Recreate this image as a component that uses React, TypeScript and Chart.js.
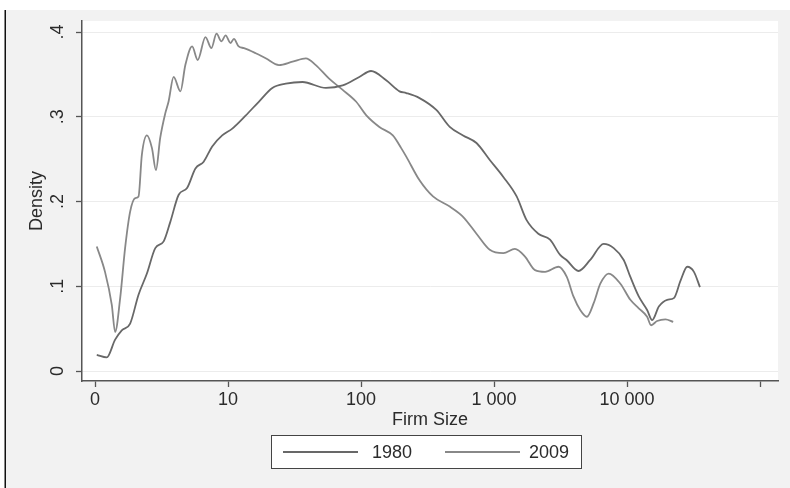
import React, { useEffect, useRef } from "react";
import { Chart, registerables } from "chart.js";

Chart.register(...registerables);

// x positions are log10(firm size) (0 shown as "0" at log position of 1)
const xTickValues = [0, 1, 2, 3, 4, 5];
const xTickLabels = ["0", "10", "100", "1 000", "10 000", ""];
const yTickValues = [0, 0.1, 0.2, 0.3, 0.4];
const yTickLabels = ["0", ".1", ".2", ".3", ".4"];

const seriesNames = ["1980", "2009"];

const x1980 = [0.013, 0.088, 0.151, 0.201, 0.264, 0.327, 0.39, 0.453, 0.516, 0.566, 0.629, 0.692, 0.755, 0.817, 0.881, 0.956, 1.032, 1.13, 1.233, 1.333, 1.434, 1.56, 1.736, 1.862, 1.987, 2.075, 2.189, 2.289, 2.34, 2.44, 2.566, 2.667, 2.767, 2.868, 2.968, 3.07, 3.17, 3.245, 3.333, 3.421, 3.497, 3.545, 3.635, 3.723, 3.824, 3.9, 3.975, 4.025, 4.088, 4.151, 4.189, 4.239, 4.302, 4.352, 4.403, 4.453, 4.503, 4.548];
const d1980 = [0.019, 0.016, 0.037, 0.048, 0.056, 0.09, 0.115, 0.145, 0.153, 0.176, 0.208, 0.216, 0.239, 0.247, 0.265, 0.278, 0.286, 0.301, 0.318, 0.334, 0.339, 0.341, 0.334, 0.337, 0.347, 0.354, 0.343, 0.33, 0.328, 0.322, 0.308, 0.288, 0.278, 0.269, 0.249, 0.229, 0.206, 0.178, 0.162, 0.155, 0.137, 0.131, 0.118, 0.131, 0.15, 0.145, 0.131, 0.111, 0.088, 0.072, 0.06, 0.076, 0.084, 0.086, 0.107, 0.123, 0.117, 0.099];

const x2009 = [0.013, 0.075, 0.126, 0.151, 0.189, 0.226, 0.264, 0.302, 0.327, 0.352, 0.39, 0.428, 0.458, 0.49, 0.528, 0.553, 0.591, 0.642, 0.679, 0.73, 0.772, 0.83, 0.875, 0.913, 0.951, 0.981, 1.019, 1.044, 1.08, 1.12, 1.208, 1.283, 1.383, 1.485, 1.585, 1.66, 1.76, 1.86, 1.962, 2.038, 2.138, 2.239, 2.302, 2.34, 2.44, 2.541, 2.667, 2.767, 2.868, 2.968, 3.07, 3.157, 3.233, 3.308, 3.384, 3.485, 3.547, 3.597, 3.648, 3.698, 3.749, 3.799, 3.862, 3.95, 4.025, 4.088, 4.151, 4.181, 4.226, 4.289, 4.347];
const d2009 = [0.147, 0.117, 0.078, 0.046, 0.086, 0.145, 0.188, 0.204, 0.206, 0.255, 0.278, 0.263, 0.237, 0.275, 0.304, 0.318, 0.347, 0.33, 0.361, 0.383, 0.367, 0.394, 0.381, 0.398, 0.389, 0.396, 0.387, 0.392, 0.383, 0.381, 0.375, 0.369, 0.361, 0.365, 0.369, 0.361, 0.345, 0.332, 0.318, 0.302, 0.288, 0.278, 0.263, 0.253, 0.225, 0.206, 0.194, 0.182, 0.162, 0.143, 0.139, 0.144, 0.135, 0.119, 0.117, 0.123, 0.111, 0.088, 0.072, 0.064, 0.08, 0.103, 0.115, 0.103, 0.084, 0.074, 0.064, 0.054, 0.059, 0.061, 0.058];

const FONT = "'Liberation Sans', Arial, Helvetica, sans-serif";
const TEXT = "#2b2b2b";
const AXIS = "#555555";

const stataPlugin = {
  id: "stataLook",
  beforeDraw(chart: any) {
    const { ctx, chartArea: a, width, height } = chart;
    ctx.save();
    ctx.fillStyle = "#ffffff";
    ctx.fillRect(0, 0, width, height);
    ctx.fillStyle = "#f2f2f2";
    ctx.fillRect(6, 10, width - 6, height - 10);
    ctx.strokeStyle = "#111111";
    ctx.lineWidth = 1.5;
    ctx.beginPath();
    ctx.moveTo(5.25, 10);
    ctx.lineTo(5.25, height);
    ctx.stroke();
    ctx.fillStyle = "#ffffff";
    ctx.fillRect(a.left, a.top, a.right - a.left, a.bottom - a.top);
    ctx.restore();
  },
  afterDraw(chart: any) {
    const { ctx } = chart;
    const yScale = chart.scales.y;
    ctx.save();
    // rotated y tick labels
    ctx.fillStyle = TEXT;
    ctx.font = `18px ${FONT}`;
    ctx.textAlign = "center";
    ctx.textBaseline = "middle";
    yTickValues.forEach((v, i) => {
      const py = yScale.getPixelForValue(v);
      ctx.save();
      ctx.translate(58, py);
      ctx.rotate(-Math.PI / 2);
      ctx.fillText(yTickLabels[i], 0, 0);
      ctx.restore();
    });
    // legend box
    const bx = 271, by = 435, bw = 310, bh = 33;
    ctx.fillStyle = "#ffffff";
    ctx.fillRect(bx, by, bw, bh);
    ctx.strokeStyle = "#444444";
    ctx.lineWidth = 1;
    ctx.strokeRect(bx + 0.5, by + 0.5, bw, bh);
    const cy = by + bh / 2 + 0.5;
    const items = [
      { x0: 283, x1: 358, tx: 372 },
      { x0: 445, x1: 520, tx: 529 },
    ];
    chart.data.datasets.forEach((ds: any, i: number) => {
      const it = items[i];
      ctx.strokeStyle = ds.borderColor;
      ctx.lineWidth = ds.borderWidth;
      ctx.beginPath();
      ctx.moveTo(it.x0, cy);
      ctx.lineTo(it.x1, cy);
      ctx.stroke();
      ctx.fillStyle = TEXT;
      ctx.font = `18px ${FONT}`;
      ctx.textAlign = "left";
      ctx.textBaseline = "middle";
      ctx.fillText(ds.label, it.tx, cy + 1);
    });
    ctx.restore();
  },
};

export default function App() {
  const ref = useRef<HTMLCanvasElement | null>(null);

  useEffect(() => {
    if (!ref.current) return;
    const chart = new Chart(ref.current, {
      type: "line",
      data: {
        datasets: [
          {
            label: seriesNames[0],
            data: x1980.map((x, i) => ({ x, y: d1980[i] })),
            borderColor: "#686868",
            borderWidth: 1.8,
            pointRadius: 0,
            cubicInterpolationMode: "monotone",
            fill: false,
          },
          {
            label: seriesNames[1],
            data: x2009.map((x, i) => ({ x, y: d2009[i] })),
            borderColor: "#888888",
            borderWidth: 1.8,
            pointRadius: 0,
            cubicInterpolationMode: "monotone",
            fill: false,
          },
        ],
      },
      options: {
        animation: false,
        responsive: false,
        devicePixelRatio: 1,
        layout: { padding: { top: 21, left: 0, right: 12, bottom: 0 } },
        plugins: {
          legend: { display: false },
          tooltip: { enabled: false },
        },
        scales: {
          x: {
            type: "linear",
            min: -0.098,
            max: 5.135,
            afterBuildTicks: (s: any) => {
              s.ticks = xTickValues.map((v) => ({ value: v }));
            },
            afterFit: (s: any) => {
              s.height = 107;
            },
            ticks: {
              autoSkip: false,
              maxRotation: 0,
              minRotation: 0,
              padding: 2,
              color: TEXT,
              font: { family: FONT, size: 18 },
              callback: (_v: any, i: number) => xTickLabels[i],
            },
            grid: {
              display: true,
              drawOnChartArea: false,
              drawTicks: true,
              tickLength: 6,
              tickColor: AXIS,
              tickWidth: 1.3,
            },
            border: { display: true, color: AXIS, width: 1.5 },
            title: {
              display: true,
              text: "Firm Size",
              color: TEXT,
              font: { family: FONT, size: 18 },
              padding: { top: 0, bottom: 57 },
            },
          },
          y: {
            type: "linear",
            min: -0.0118,
            max: 0.413,
            afterBuildTicks: (s: any) => {
              s.ticks = yTickValues.map((v) => ({ value: v }));
            },
            afterFit: (s: any) => {
              s.width = 82;
            },
            ticks: { display: false },
            grid: {
              display: true,
              drawOnChartArea: true,
              color: "#ececec",
              lineWidth: 1,
              drawTicks: true,
              tickLength: 6,
              tickColor: AXIS,
              tickWidth: 1.3,
            },
            border: { display: true, color: AXIS, width: 1.5 },
            title: {
              display: true,
              text: "Density",
              color: TEXT,
              font: { family: FONT, size: 18 },
              padding: { top: 26, bottom: 0 },
            },
          },
        },
      },
      plugins: [stataPlugin],
    } as any);
    return () => chart.destroy();
  }, []);

  return (
    <div style={{ position: "absolute", left: 0, top: 0, width: 790, height: 488 }}>
      <canvas ref={ref} width={790} height={488} style={{ display: "block" }} />
    </div>
  );
}
